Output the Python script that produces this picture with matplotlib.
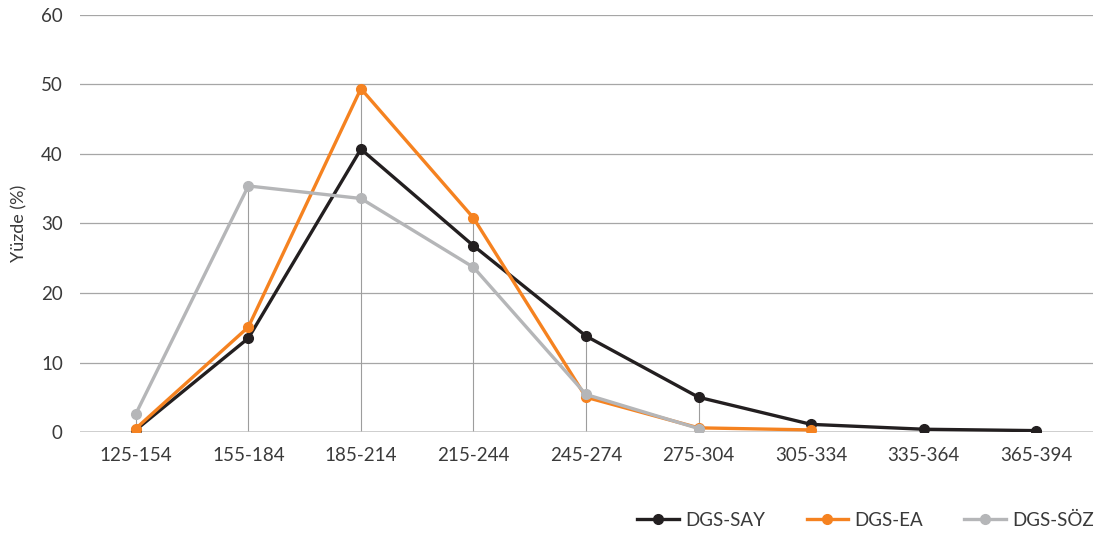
import matplotlib.pyplot as plt
import numpy as np

plt.rcParams['font.family'] = ['Lato', 'DejaVu Sans']

# Score ranges
categories = ['125-154', '155-184', '185-214', '215-244', '245-274',
              '275-304', '305-334', '335-364', '365-394']

# Percentages per group
say = [0.3, 13.5, 40.7, 26.8, 13.8, 5.0, 1.1, 0.4, 0.2]
ea = [0.5, 15.1, 49.4, 30.8, 5.0, 0.6, 0.3]
soz = [2.6, 35.4, 33.6, 23.7, 5.4, 0.5]

series = [
    ('DGS-SAY', say, '#231f20'),
    ('DGS-EA', ea, '#f58220'),
    ('DGS-SÖZ', soz, '#b5b6b8'),
]

fig = plt.figure(figsize=(11.12, 5.35), dpi=100)
ax = fig.add_axes([0.0715, 0.1925, 0.911, 0.7795])

x = np.arange(len(categories))

# Excel style drop lines from the highest point of each category
tops = []
for i in range(len(categories)):
    vals = [s[i] for _, s, _ in series if i < len(s)]
    tops.append(max(vals))
ax.vlines(x, 0, tops, color='#9d9d9d', linewidth=0.8, zorder=1)

for name, vals, color in series:
    ax.plot(x[:len(vals)], vals, color=color, linewidth=2.4, marker='o',
            markersize=7, label=name, zorder=3)

ax.set_xlim(-0.5, len(categories) - 0.5)
ax.set_ylim(0, 60)
ax.set_yticks(range(0, 61, 10))
ax.set_xticks(x)
ax.set_xticklabels(categories)
ax.grid(axis='y', color='#a6a6a6', linewidth=0.9, zorder=0)
ax.axhline(0, color='#c4c4c4', linewidth=1.8, zorder=2)
ax.set_axisbelow(True)

for side in ['top', 'right', 'left', 'bottom']:
    ax.spines[side].set_visible(False)
ax.tick_params(axis='both', length=0, labelsize=13.5, colors='#3a3a3a')
ax.tick_params(axis='x', pad=11)
ax.tick_params(axis='y', pad=12)
ax.set_ylabel('Yüzde (%)', fontsize=13, color='#3a3a3a', labelpad=10)

ax.legend(loc='upper right', bbox_to_anchor=(1.018, -0.15), ncol=3,
          frameon=False, fontsize=13.5, handlelength=2.2, columnspacing=2.2,
          handletextpad=0.35, labelcolor='#3a3a3a')

plt.savefig('out.png', dpi=100)
